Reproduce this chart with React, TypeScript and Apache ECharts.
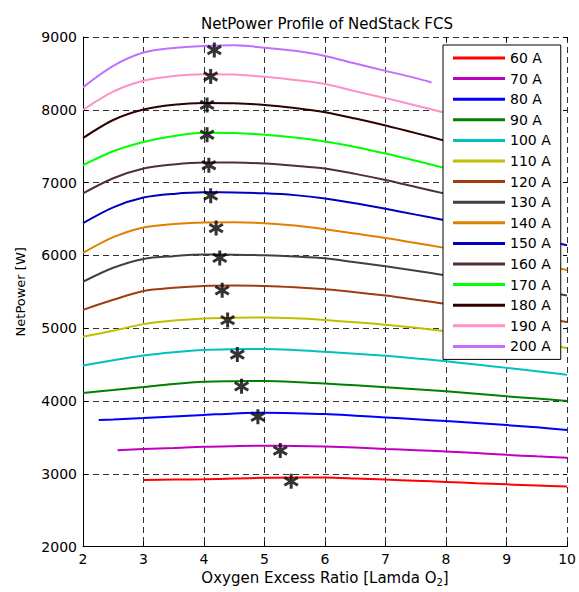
import React, { useEffect, useRef } from "react";
import * as echarts from "echarts";

const TITLE = "NetPower Profile of NedStack FCS";
const X_NAME = "Oxygen Excess Ratio [Lamda O{sub|2}]";
const Y_NAME = "NetPower [W]";

const currents = ["60 A", "70 A", "80 A", "90 A", "100 A", "110 A", "120 A", "130 A", "140 A", "150 A", "160 A", "170 A", "180 A", "190 A", "200 A"];
const colors = ["#ff0000", "#c000c0", "#0000ff", "#008000", "#00c0c0", "#c0c000", "#a03c10", "#404040", "#e08000", "#0000c0", "#503030", "#00ff00", "#300000", "#ff90c8", "#c070ff"];

const p60 = [[3, 2915], [3.5, 2920], [4, 2925], [4.5, 2935], [5, 2945], [5.5, 2950], [6, 2948], [6.5, 2935], [7, 2920], [7.5, 2905], [8, 2888], [8.5, 2870], [9, 2855], [9.5, 2840], [10, 2825]];
const p70 = [[2.57, 3325], [3, 3340], [3.5, 3355], [4, 3372], [4.5, 3380], [5, 3385], [5.5, 3382], [6, 3375], [6.5, 3360], [7, 3342], [7.5, 3325], [8, 3306], [8.5, 3285], [9, 3260], [9.5, 3240], [10, 3222]];
const p80 = [[2.26, 3738], [2.5, 3745], [3, 3765], [3.5, 3788], [4, 3808], [4.5, 3830], [5, 3838], [5.5, 3832], [6, 3820], [6.5, 3798], [7, 3774], [7.5, 3750], [8, 3724], [8.5, 3698], [9, 3670], [9.5, 3638], [10, 3602]];
const p90 = [[2, 4110], [2.5, 4150], [3, 4192], [3.5, 4235], [4, 4265], [4.5, 4272], [5, 4274], [5.5, 4262], [6, 4240], [6.5, 4215], [7, 4190], [7.5, 4163], [8, 4134], [8.5, 4100], [9, 4065], [9.5, 4033], [10, 4001]];
const p100 = [[2, 4488], [2.5, 4560], [3, 4625], [3.5, 4670], [4, 4702], [4.5, 4712], [5, 4715], [5.5, 4700], [6, 4675], [6.5, 4650], [7, 4620], [7.5, 4585], [8, 4545], [8.5, 4500], [9, 4455], [9.5, 4408], [10, 4360]];
const p110 = [[2, 4884], [2.5, 4965], [3, 5056], [3.5, 5105], [4, 5134], [4.5, 5145], [5, 5147], [5.5, 5135], [6, 5111], [6.5, 5082], [7, 5048], [7.5, 5005], [8, 4958], [8.5, 4905], [9, 4848], [9.5, 4790], [10, 4729]];
const p120 = [[2, 5252], [2.5, 5390], [3, 5512], [3.5, 5555], [4, 5580], [4.5, 5585], [5, 5580], [5.5, 5562], [6, 5534], [6.5, 5495], [7, 5448], [7.5, 5392], [8, 5333], [8.5, 5272], [9, 5210], [9.5, 5148], [10, 5085]];
const p130 = [[2, 5638], [2.5, 5830], [3, 5952], [3.5, 5990], [4, 6011], [4.5, 6010], [5, 6002], [5.5, 5985], [6, 5960], [6.5, 5905], [7, 5850], [7.5, 5790], [8, 5725], [8.5, 5660], [9, 5590], [9.5, 5520], [10, 5450]];
const p140 = [[2, 6034], [2.5, 6250], [3, 6384], [3.5, 6430], [4, 6453], [4.5, 6455], [5, 6443], [5.5, 6410], [6, 6360], [6.5, 6300], [7, 6240], [7.5, 6170], [8, 6100], [8.5, 6030], [9, 5955], [9.5, 5880], [10, 5800]];
const p150 = [[2, 6443], [2.5, 6660], [3, 6794], [3.5, 6845], [4, 6866], [4.5, 6865], [5, 6853], [5.5, 6828], [6, 6782], [6.5, 6715], [7, 6640], [7.5, 6560], [8, 6480], [8.5, 6400], [9, 6315], [9.5, 6228], [10, 6140]];
const p160 = [[2, 6853], [2.5, 7060], [3, 7194], [3.5, 7250], [4, 7276], [4.5, 7275], [5, 7262], [5.5, 7232], [6, 7194], [6.5, 7120], [7, 7035], [7.5, 6940], [8, 6845], [8.5, 6745], [9, 6645], [9.5, 6540]];
const p170 = [[2, 7239], [2.5, 7430], [3, 7557], [3.5, 7640], [4, 7685], [4.5, 7680], [5, 7658], [5.5, 7620], [6, 7566], [6.5, 7490], [7, 7400], [7.5, 7300], [8, 7195], [8.5, 7085], [9, 6970]];
const p180 = [[2, 7612], [2.5, 7860], [3, 8003], [3.5, 8070], [4, 8094], [4.5, 8090], [5, 8067], [5.5, 8025], [6, 7967], [6.5, 7880], [7, 7785], [7.5, 7680], [8, 7570], [8.5, 7455], [9, 7340]];
const p190 = [[2, 7999], [2.5, 8250], [3, 8399], [3.5, 8465], [4, 8490], [4.5, 8485], [5, 8453], [5.5, 8410], [6, 8353], [6.5, 8255], [7, 8160], [7.5, 8060], [8, 7955], [8.5, 7845]];
const p200 = [[2, 8308], [2.5, 8603], [3, 8786], [3.5, 8850], [4, 8876], [4.5, 8885], [5, 8853], [5.5, 8810], [6, 8740], [6.5, 8635], [7, 8535], [7.5, 8435], [7.76, 8376]];

const curves = [p60, p70, p80, p90, p100, p110, p120, p130, p140, p150, p160, p170, p180, p190, p200];

// optimum markers (asterisks)
const optimum = [[5.44, 2896], [5.26, 3319], [4.89, 3783], [4.62, 4201], [4.55, 4638], [4.39, 5111], [4.3, 5520], [4.26, 5966], [4.2, 6375], [4.11, 6821], [4.08, 7239], [4.05, 7658], [4.05, 8067], [4.11, 8458], [4.17, 8821]];

const xTicks = { min: 2, max: 10, interval: 1 };
const yTicks = { min: 2000, max: 9000, interval: 1000 };

const FONT = "DejaVu Sans, Liberation Sans, Arial, sans-serif";
const STAR = "path://M40,0 L60,0 L60,100 L40,100 Z M0,32.7 L10,15.4 L100,67.3 L90,84.6 Z M10,84.6 L0,67.3 L90,15.4 L100,32.7 Z";

export default function App() {
  const ref = useRef<HTMLDivElement>(null);
  useEffect(() => {
    if (!ref.current) return;
    const chart = echarts.init(ref.current, null, { renderer: "svg" });
    const grid = { left: 83, top: 37, width: 488, height: 514 };
    const split = { show: true, lineStyle: { color: "#333", type: [6, 4] as any, width: 1 } };
    chart.setOption({
      animation: false,
      backgroundColor: "#fff",
      textStyle: { fontFamily: FONT },
      title: {
        text: TITLE,
        left: 196,
        top: 11,
        textStyle: { fontSize: 15, fontWeight: "normal", color: "#000", fontFamily: FONT },
      },
      grid,
      legend: {
        data: currents,
        orient: "vertical",
        left: 443,
        top: 45,
        width: 120,
        padding: [5, 10, 5, 10],
        itemGap: 4.6,
        itemWidth: 52,
        itemHeight: 3,
        icon: "rect",
        backgroundColor: "#fff",
        borderColor: "#000",
        borderWidth: 1,
        borderRadius: 0,
        textStyle: { fontSize: 14, color: "#000", fontFamily: FONT, lineHeight: 16 },
      },
      xAxis: [
        {
          type: "value",
          ...xTicks,
          position: "bottom",
          name: X_NAME,
          nameLocation: "middle",
          nameGap: 18,
          nameTextStyle: {
            fontSize: 15,
            color: "#000",
            fontFamily: FONT,
            rich: { sub: { fontSize: 10, verticalAlign: "bottom", padding: [8, 0, 0, 0], color: "#000", fontFamily: FONT } },
          },
          axisLine: { show: true, lineStyle: { color: "#000", width: 1 } },
          axisTick: { show: true, inside: true, length: 5, lineStyle: { color: "#000" } },
          axisLabel: { fontSize: 14, color: "#000", margin: 5, fontFamily: FONT },
          splitLine: split,
        },
        {
          type: "value",
          ...xTicks,
          position: "top",
          axisLine: { show: false },
          axisTick: { show: true, inside: true, length: 4, lineStyle: { color: "#000" } },
          axisLabel: { show: false },
          splitLine: { show: false },
        },
      ],
      yAxis: [
        {
          type: "value",
          ...yTicks,
          position: "left",
          name: Y_NAME,
          nameLocation: "middle",
          nameGap: 56,
          nameTextStyle: { fontSize: 13, color: "#000", fontFamily: FONT },
          axisLine: { show: true, lineStyle: { color: "#000", width: 1 } },
          axisTick: { show: true, inside: true, length: 5, lineStyle: { color: "#000" } },
          axisLabel: { fontSize: 14, color: "#000", margin: 6, fontFamily: FONT, formatter: (v: number) => String(v) },
          splitLine: split,
        },
        {
          type: "value",
          ...yTicks,
          position: "right",
          axisLine: { show: false },
          axisTick: { show: true, inside: true, length: 4, lineStyle: { color: "#000" } },
          axisLabel: { show: false },
          splitLine: { show: false },
        },
      ],
      series: [
        ...curves.map((pts, i) => ({
          name: currents[i],
          type: "line",
          data: pts,
          symbol: "none",
          smooth: 0.3,
          color: colors[i],
          lineStyle: { width: 2, color: colors[i] },
          z: 2,
        })),
        {
          name: "optimum",
          type: "scatter",
          data: optimum,
          symbol: STAR,
          symbolSize: 15,
          itemStyle: { color: "#000" },
          z: 3,
        },
      ],
    });
    return () => chart.dispose();
  }, []);
  return <div ref={ref} style={{ position: "fixed", left: 0, top: 0, width: 579, height: 592 }} />;
}
